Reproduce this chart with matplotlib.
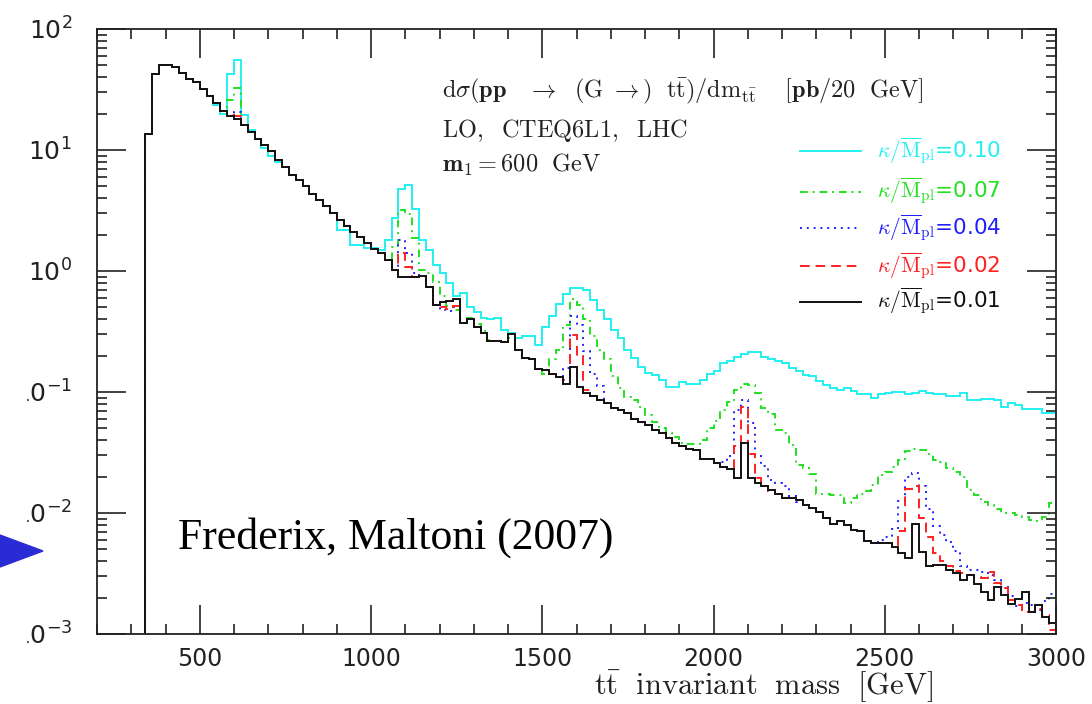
import numpy as np
import matplotlib
matplotlib.use("Agg")
import matplotlib.pyplot as plt
from matplotlib.patches import Polygon, Rectangle

plt.rcParams['mathtext.fontset'] = 'cm'

# bin edges of the m_tt histogram [GeV], 20 GeV bins from threshold to 3000
edges = np.arange(340, 3001, 20)

# log10(dsigma/dm) read per bin from the picture, rows = 100 GeV (x00 x20 x40 x60 x80)
log_k001 = [
    1.13, 1.63, 1.70,                      # 340-380
    1.70, 1.69, 1.64, 1.59, 1.56,          # 400
    1.50, 1.45, 1.39, 1.32, 1.28,          # 500
    1.26, 1.21, 1.15, 1.09, 1.04,          # 600
    0.99, 0.92, 0.86, 0.79, 0.75,          # 700
    0.70, 0.64, 0.59, 0.54, 0.48,          # 800
    0.42, 0.37, 0.325, 0.28, 0.23,         # 900
    0.18, 0.15, 0.09, 0.01, -0.05,         # 1000
    -0.05, -0.05, -0.04, -0.13, -0.28,     # 1100
    -0.26, -0.245, -0.23, -0.43, -0.40,    # 1200
    -0.46, -0.51, -0.58, -0.58, -0.585,    # 1300
    -0.52, -0.65, -0.72, -0.73, -0.81,     # 1400
    -0.82, -0.85, -0.88, -0.93, -0.79,     # 1500
    -0.96, -1.01, -1.03, -1.07, -1.09,     # 1600
    -1.13, -1.15, -1.17, -1.22, -1.25,     # 1700
    -1.27, -1.31, -1.34, -1.38, -1.42,     # 1800
    -1.45, -1.47, -1.48, -1.55, -1.55,     # 1900
    -1.59, -1.62, -1.64, -1.71, -1.42,     # 2000
    -1.71, -1.755, -1.78, -1.81, -1.84,    # 2100
    -1.88, -1.88, -1.89, -1.93, -1.96,     # 2200
    -1.99, -2.04, -2.09, -2.07, -2.10,     # 2300
    -2.14, -2.15, -2.23, -2.25, -2.25,     # 2400
    -2.25, -2.28, -2.33, -2.37, -2.09,     # 2500
    -2.32, -2.44, -2.43, -2.43, -2.47,     # 2600
    -2.50, -2.55, -2.51, -2.59, -2.65,     # 2700
    -2.72, -2.61, -2.68, -2.75, -2.71,     # 2800
    -2.65, -2.82, -2.76, -2.86, -2.91,     # 2900
]

log_k002 = [
    1.13, 1.63, 1.70,
    1.70, 1.69, 1.64, 1.59, 1.56,
    1.50, 1.45, 1.39, 1.32, 1.29,
    1.28, 1.21, 1.15, 1.09, 1.04,
    0.99, 0.92, 0.86, 0.79, 0.75,
    0.70, 0.64, 0.59, 0.54, 0.48,
    0.42, 0.37, 0.325, 0.28, 0.23,
    0.18, 0.15, 0.09, 0.01, 0.15,
    0.03, -0.05, -0.04, -0.13, -0.28,
    -0.30, -0.31, -0.29, -0.43, -0.40,
    -0.46, -0.51, -0.58, -0.58, -0.585,
    -0.52, -0.65, -0.72, -0.73, -0.81,
    -0.82, -0.85, -0.88, -0.90, -0.53,
    -0.70, -0.98, -1.03, -1.07, -1.09,
    -1.13, -1.15, -1.17, -1.22, -1.25,
    -1.27, -1.31, -1.34, -1.38, -1.42,
    -1.45, -1.47, -1.48, -1.55, -1.55,
    -1.59, -1.62, -1.64, -1.45, -1.12,
    -1.51, -1.71, -1.78, -1.82, -1.84,
    -1.88, -1.88, -1.89, -1.93, -1.96,
    -1.99, -2.04, -2.09, -2.07, -2.10,
    -2.14, -2.15, -2.23, -2.25, -2.25,
    -2.25, -2.28, -2.15, -1.80, -1.78,
    -2.04, -2.20, -2.33, -2.40, -2.44,
    -2.48, -2.50, -2.51, -2.53, -2.54,
    -2.49, -2.58, -2.62, -2.72, -2.76,
    -2.82, -2.82, -2.79, -2.84, -2.97,
]

log_k004 = [
    1.13, 1.63, 1.70,
    1.70, 1.69, 1.64, 1.59, 1.56,
    1.50, 1.45, 1.39, 1.32, 1.28,
    1.31, 1.21, 1.15, 1.09, 1.04,
    0.99, 0.92, 0.86, 0.79, 0.75,
    0.70, 0.64, 0.59, 0.54, 0.48,
    0.42, 0.37, 0.325, 0.28, 0.23,
    0.18, 0.15, 0.09, 0.01, 0.26,
    0.15, -0.02, -0.04, -0.13, -0.28,
    -0.32, -0.33, -0.30, -0.43, -0.40,
    -0.46, -0.51, -0.58, -0.58, -0.585,
    -0.52, -0.65, -0.72, -0.73, -0.81,
    -0.82, -0.85, -0.88, -0.80, -0.37,
    -0.45, -0.66, -0.85, -0.95, -1.09,
    -1.13, -1.15, -1.17, -1.22, -1.25,
    -1.27, -1.31, -1.34, -1.38, -1.42,
    -1.45, -1.47, -1.48, -1.55, -1.55,
    -1.59, -1.58, -1.53, -1.15, -1.07,
    -1.26, -1.53, -1.61, -1.73, -1.755,
    -1.78, -1.86, -1.91, -1.93, -1.96,
    -1.99, -2.04, -2.09, -2.07, -2.10,
    -2.14, -2.15, -2.23, -2.25, -2.22,
    -2.20, -2.13, -1.90, -1.70, -1.67,
    -1.78, -1.97, -2.11, -2.18, -2.24,
    -2.31, -2.44, -2.47, -2.47, -2.49,
    -2.51, -2.55, -2.61, -2.69, -2.77,
    -2.74, -2.76, -2.80, -2.73, -2.67,
]

log_k007 = [
    1.13, 1.63, 1.70,
    1.70, 1.69, 1.64, 1.59, 1.56,
    1.50, 1.45, 1.39, 1.32, 1.41,
    1.51, 1.21, 1.15, 1.09, 1.04,
    0.99, 0.92, 0.86, 0.79, 0.75,
    0.70, 0.64, 0.59, 0.54, 0.48,
    0.42, 0.37, 0.325, 0.28, 0.23,
    0.18, 0.15, 0.09, 0.20, 0.50,
    0.47, 0.27, 0.01, -0.02, -0.09,
    -0.21, -0.29, -0.32, -0.40, -0.39,
    -0.44, -0.50, -0.57, -0.58, -0.585,
    -0.55, -0.65, -0.72, -0.73, -0.81,
    -0.85, -0.73, -0.65, -0.45, -0.23,
    -0.28, -0.40, -0.54, -0.65, -0.73,
    -0.87, -0.97, -1.04, -1.07, -1.12,
    -1.19, -1.245, -1.30, -1.34, -1.375,
    -1.42, -1.43, -1.43, -1.40, -1.30,
    -1.24, -1.15, -1.08, -0.98, -0.93,
    -0.94, -1.01, -1.13, -1.18, -1.31,
    -1.34, -1.44, -1.60, -1.63, -1.68,
    -1.84, -1.84, -1.85, -1.85, -1.92,
    -1.88, -1.84, -1.82, -1.77, -1.69,
    -1.66, -1.62, -1.56, -1.49, -1.47,
    -1.48, -1.51, -1.56, -1.58, -1.63,
    -1.66, -1.70, -1.81, -1.85, -1.91,
    -1.93, -1.97, -2.00, -2.00, -2.02,
    -2.03, -2.06, -2.07, -2.03, -1.92,
]

log_k010 = [
    1.13, 1.63, 1.70,
    1.70, 1.69, 1.64, 1.59, 1.56,
    1.50, 1.45, 1.37, 1.30, 1.63,
    1.74, 1.29, 1.165, 1.09, 1.02,
    0.95, 0.90, 0.86, 0.79, 0.75,
    0.70, 0.64, 0.59, 0.54, 0.48,
    0.34, 0.34, 0.215, 0.215, 0.19,
    0.19, 0.17, 0.26, 0.435, 0.68,
    0.71, 0.51, 0.26, 0.17, 0.05,
    -0.02, -0.10, -0.21, -0.18, -0.295,
    -0.34, -0.39, -0.40, -0.39, -0.49,
    -0.51, -0.55, -0.54, -0.54, -0.61,
    -0.46, -0.37, -0.27, -0.19, -0.14,
    -0.14, -0.16, -0.24, -0.32, -0.40,
    -0.49, -0.55, -0.65, -0.72, -0.79,
    -0.84, -0.86, -0.90, -0.96, -0.96,
    -0.92, -0.93, -0.93, -0.90, -0.85,
    -0.83, -0.76, -0.74, -0.71, -0.69,
    -0.67, -0.67, -0.71, -0.73, -0.74,
    -0.76, -0.80, -0.83, -0.86, -0.87,
    -0.91, -0.94, -0.97, -0.98, -0.97,
    -0.99, -1.02, -1.02, -1.05, -1.02,
    -1.01, -1.00, -1.00, -1.02, -1.005,
    -0.99, -1.01, -1.02, -1.02, -1.03,
    -1.03, -1.01, -1.07, -1.07, -1.06,
    -1.06, -1.07, -1.12, -1.09, -1.11,
    -1.14, -1.14, -1.14, -1.17, -1.17,
]

labels = ["0.10", "0.07", "0.04", "0.02", "0.01"]
series = [log_k010, log_k007, log_k004, log_k002, log_k001]
colors = ["#22f0f0", "#22e022", "#2020ff", "#ff2020", "#111111"]
styles = ["-", (0, (4, 2.5, 1, 2.5)), (0, (1, 2.5)), (0, (5, 3)), "-"]

fig = plt.figure(figsize=(10.92, 7.04), dpi=100)
ax = fig.add_axes([97 / 1092, 1 - 634 / 704, 959 / 1092, 605 / 704])

for vals, c, ls in zip(series, colors, styles):
    ax.stairs(10 ** np.array(vals), edges, baseline=1e-6, color=c,
              linestyle=ls, lw=1.4)

ax.set_yscale("log")
ax.set_xlim(200, 3000)
ax.set_ylim(1e-3, 1e2)
ax.set_xticks([500, 1000, 1500, 2000, 2500, 3000])
ax.set_xticks(np.arange(200, 3001, 100), minor=True)
ax.tick_params(which="both", direction="in", top=True, right=True,
               color="#222222", width=1.2, labelcolor="#222222")
ax.tick_params(which="major", length=21)
ax.tick_params(which="minor", length=7)
ax.tick_params(axis="x", which="major", labelsize=17, pad=9)
ax.tick_params(axis="y", which="major", labelsize=18, pad=18)
for s in ax.spines.values():
    s.set_linewidth(1.3)
    s.set_color("#222222")

# annotation block
tc = "#222222"
ax.text(0.36, 0.896, r"$\mathrm{d}\sigma(\mathbf{pp}\ \ \ \rightarrow\ \ (\mathrm{G}\ \rightarrow)\ \ "
        r"\mathrm{t}\bar{\mathrm{t}})/\mathrm{dm}_{\mathrm{t}\bar{\mathrm{t}}}\ \ \ \ "
        r"[\mathbf{pb}/20\ \ \mathrm{GeV}]$", transform=ax.transAxes,
        fontsize=17.5, va="center", color=tc)
ax.text(0.36, 0.833, r"$\mathrm{LO,\ \ CTEQ6L1,\ \ LHC}$", transform=ax.transAxes,
        fontsize=17.5, va="center", color=tc)
ax.text(0.36, 0.776, r"$\mathbf{m}_{1}\mathrm{=600\ \ GeV}$", transform=ax.transAxes,
        fontsize=17.5, va="center", color=tc)

# hand-made legend
rows_y = [0.798, 0.731, 0.671, 0.608, 0.549]
for y, lab, c, ls in zip(rows_y, labels, colors, styles):
    ax.plot([0.733, 0.797], [y, y], transform=ax.transAxes, color=c,
            linestyle=ls, lw=1.4)
    ax.text(0.813, y, r"$\kappa/\overline{\mathrm{M}}_{\mathrm{pl}}$=" + lab,
            transform=ax.transAxes, color=c, fontsize=15.5, va="center")

fig.text(764 / 1092, 1 - 687 / 704, r"$\mathrm{t}\bar{\mathrm{t}}\ \ \mathrm{invariant\ \ mass\ \ [GeV]}$",
         ha="center", va="center", fontsize=22, color=tc)

fig.text(178 / 1092, 1 - 549 / 704, "Frederix, Maltoni (2007)",
         family="Liberation Serif", fontsize=31.5, va="baseline", color="black")

# the slide crops the left edge of the lower tick labels
fig.patches.append(Rectangle((0, 1 - 650 / 704), 26 / 1092, 290 / 704,
                             transform=fig.transFigure, color="white", zorder=5))
tri = Polygon([[0, 1 - 535 / 704], [0, 1 - 567 / 704], [43 / 1092, 1 - 551 / 704]],
              closed=True, transform=fig.transFigure, color="#2b2bd6", zorder=6)
fig.patches.append(tri)

fig.savefig("out.png", dpi=100)
